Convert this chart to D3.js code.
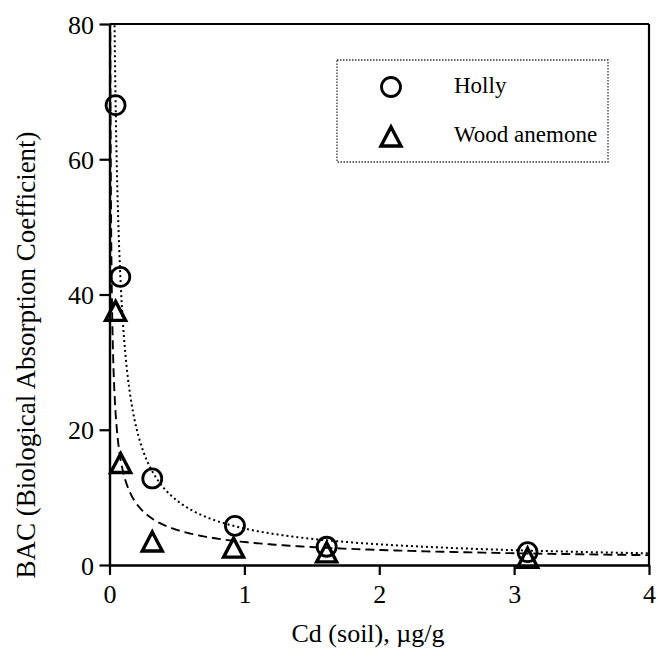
<!DOCTYPE html>
<html>
<head>
<meta charset="utf-8">
<script src="https://cdn.jsdelivr.net/npm/d3@7"></script>
<style>
  html, body { margin: 0; padding: 0; background: #fff; }
  svg { display: block; }
  text { font-family: "Liberation Serif", "Times New Roman", "DejaVu Serif", serif; fill: #000; }
</style>
</head>
<body>
<svg id="chart" width="658" height="660"></svg>
<script>
// ---- Data ----
const hollyX = [0.045, 0.08, 0.317, 0.93, 1.61, 3.10];
const hollyY = [68.0, 42.6, 12.8, 5.8, 2.7, 1.9];
const anemoneX = [0.045, 0.083, 0.317, 0.92, 1.61, 3.10];
const anemoneY = [37.5, 15.0, 3.4, 2.5, 1.8, 1.0];
// fitted power-law curves  y = a * x^b  (coefficients)
const hollyFit = [5.4, -0.82];
const anemoneFit = [3.4, -0.61];
const xTicks = [0, 1, 2, 3, 4];
const yTicks = [0, 20, 40, 60, 80];
const legendLabels = ["Holly", "Wood anemone"];
const xTitle = "Cd (soil), µg/g";
const yTitle = "BAC (Biological Absorption Coefficient)";

// ---- Layout ----
const L = 109.5, R = 649, T = 24, B = 565;
const svg = d3.select("#chart");
const x = d3.scaleLinear().domain([0, 4]).range([L, R]);
const y = d3.scaleLinear().domain([0, 80]).range([B, T]);

svg.append("clipPath").attr("id", "clip")
  .append("rect").attr("x", L).attr("y", T).attr("width", R - L).attr("height", B - T);

// fit curves
function fitPoints(fit) {
  const [a, b] = fit;
  const xStart = Math.pow(85 / a, 1 / b);
  const pts = [];
  const n = 400;
  const l0 = Math.log(xStart), l1 = Math.log(4);
  for (let i = 0; i <= n; i++) {
    const xv = Math.exp(l0 + (l1 - l0) * i / n);
    pts.push([xv, a * Math.pow(xv, b)]);
  }
  return pts;
}
const line = d3.line().x(d => x(d[0])).y(d => y(d[1]));
const g = svg.append("g").attr("clip-path", "url(#clip)");
g.append("path").attr("d", line(fitPoints(hollyFit)))
  .attr("fill", "none").attr("stroke", "#000").attr("stroke-width", 2)
  .attr("stroke-dasharray", "2,3");
g.append("path").attr("d", line(fitPoints(anemoneFit)))
  .attr("fill", "none").attr("stroke", "#000").attr("stroke-width", 1.9)
  .attr("stroke-dasharray", "9,5");

// axes
const xAxis = svg.append("g").attr("transform", `translate(0,${B})`)
  .call(d3.axisBottom(x).tickValues(xTicks).tickFormat(d3.format("d")).tickSize(10).tickSizeOuter(0));
const yAxis = svg.append("g").attr("transform", `translate(${L},0)`)
  .call(d3.axisLeft(y).tickValues(yTicks).tickFormat(d3.format("d")).tickSize(10).tickSizeOuter(0));
[xAxis, yAxis].forEach(a => {
  a.select(".domain").attr("stroke", "#000").attr("stroke-width", 2.4);
  a.selectAll(".tick line").attr("stroke", "#000").attr("stroke-width", 2.2);
  a.selectAll(".tick text").attr("font-size", 26).attr("fill", "#000");
});
xAxis.selectAll(".tick text").attr("dy", "0.98em");
yAxis.selectAll(".tick text").attr("dx", "-0.1em").attr("dy", "0.35em");

// frame top & right
svg.append("line").attr("x1", L).attr("x2", R).attr("y1", T).attr("y2", T)
  .attr("stroke", "#000").attr("stroke-width", 2.2);
svg.append("line").attr("x1", R).attr("x2", R).attr("y1", T).attr("y2", B)
  .attr("stroke", "#000").attr("stroke-width", 2.2);

// markers
const triPath = (cx, cy) => {
  const w = 20, h = 18;
  return `M${cx},${cy - h / 2 - 1}L${cx + w / 2},${cy + h / 2}L${cx - w / 2},${cy + h / 2}Z`;
};
svg.append("g").selectAll("circle").data(d3.zip(hollyX, hollyY)).join("circle")
  .attr("cx", d => x(d[0])).attr("cy", d => y(d[1])).attr("r", 9.5)
  .attr("fill", "none").attr("stroke", "#000").attr("stroke-width", 2.8);
svg.append("g").selectAll("path").data(d3.zip(anemoneX, anemoneY)).join("path")
  .attr("d", d => triPath(x(d[0]), y(d[1])))
  .attr("fill", "none").attr("stroke", "#000").attr("stroke-width", 3.4)
  .attr("stroke-linejoin", "miter");

// legend
const lg = svg.append("g");
lg.append("rect").attr("x", 337).attr("y", 60).attr("width", 271).attr("height", 102)
  .attr("fill", "none").attr("stroke", "#333").attr("stroke-width", 1.3)
  .attr("stroke-dasharray", "1.5,1.5");
lg.append("circle").attr("cx", 391).attr("cy", 87).attr("r", 9.5)
  .attr("fill", "none").attr("stroke", "#000").attr("stroke-width", 2.8);
lg.append("path").attr("d", triPath(391, 137))
  .attr("fill", "none").attr("stroke", "#000").attr("stroke-width", 3.4);
lg.selectAll("text").data(legendLabels).join("text")
  .attr("x", 454).attr("y", (d, i) => 93 + i * 49)
  .attr("font-size", 23).text(d => d);

// axis titles
svg.append("text").attr("x", 368).attr("y", 642).attr("text-anchor", "middle")
  .attr("font-size", 26).text(xTitle);
svg.append("text").attr("transform", `translate(35,355) rotate(-90)`)
  .attr("text-anchor", "middle").attr("font-size", 27).text(yTitle);
</script>
</body>
</html>
